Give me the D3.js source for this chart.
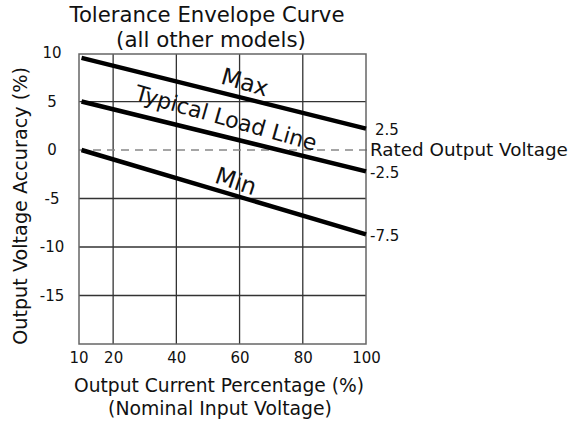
<!DOCTYPE html>
<html>
<head>
<meta charset="utf-8">
<script src="https://cdn.jsdelivr.net/npm/d3@7"></script>
<style>
  html, body { margin: 0; padding: 0; background: #fff; }
  svg { display: block; }
  text { font-family: "DejaVu Sans", Verdana, sans-serif; fill: #111; }
</style>
</head>
<body>
<svg id="chart" width="580" height="424"></svg>
<script>
// ---- data ----
const xTicks = [10, 20, 40, 60, 80, 100];
const yTicks = [10, 5, 0, -5, -10, -15];
const xGrid = [20, 40, 60, 80];
const yGrid = [5, -5, -10, -15];
const loadPct = [10, 100];
const maxLine = [9.5, 2.2];
const typicalLine = [5.0, -2.2];
const minLine = [0.0, -8.7];
const endLabels = ["2.5", "-2.5", "-7.5"];
const lineNames = ["Max", "Typical Load Line", "Min"];

const svg = d3.select("#chart");
const L = 79, R = 366, T = 54, B = 344;
const x = d3.scaleLinear().domain([9.2, 100]).range([L, R]);
const y = d3.scaleLinear().domain([-20, 9.9]).range([B, T]);

function fit(sel, w) {
  const n = sel.node();
  const len = n.getComputedTextLength();
  const fs = parseFloat(sel.attr("font-size"));
  sel.attr("font-size", (fs * w / len).toFixed(2));
  return sel;
}

// grid
svg.append("g").selectAll("line").data(xGrid).join("line")
  .attr("x1", d => x(d)).attr("x2", d => x(d)).attr("y1", T).attr("y2", B)
  .attr("stroke", "#333").attr("stroke-width", 1.3);
svg.append("g").selectAll("line").data(yGrid).join("line")
  .attr("x1", L).attr("x2", R).attr("y1", d => y(d)).attr("y2", d => y(d))
  .attr("stroke", "#333").attr("stroke-width", 1.3);
// zero dashed
svg.append("line").attr("x1", L).attr("x2", R + 4).attr("y1", y(0)).attr("y2", y(0))
  .attr("stroke", "#888").attr("stroke-width", 1.6).attr("stroke-dasharray", "8,6");
// frame
svg.append("rect").attr("x", L).attr("y", T).attr("width", R - L).attr("height", B - T)
  .attr("fill", "none").attr("stroke", "#666").attr("stroke-width", 1.5);

// axes ticks (text only)
const fmt = d => String(d);
const xAxis = d3.axisBottom(x).tickValues(xTicks).tickFormat(fmt).tickSize(0).tickPadding(0);
const gx = svg.append("g").attr("transform", `translate(0,${B})`).call(xAxis);
gx.select(".domain").remove();
gx.selectAll("text").attr("font-family", "DejaVu Sans").attr("font-size", 15)
  .attr("fill", "#111").attr("dy", null).attr("y", 19);
gx.selectAll(".tick").filter(d => d === 10).select("text").attr("dx", -3);

const yAxis = d3.axisLeft(y).tickValues(yTicks).tickFormat(fmt).tickSize(0).tickPadding(0);
const gy = svg.append("g").attr("transform", `translate(52,0)`).call(yAxis);
gy.select(".domain").remove();
gy.selectAll("text").attr("font-family", "DejaVu Sans").attr("font-size", 15)
  .attr("fill", "#111").attr("text-anchor", "middle").attr("x", 0).attr("dy", "0.3em");

// lines
const series = [maxLine, typicalLine, minLine];
const lineGen = d3.line().x((d, i) => x(loadPct[i])).y(d => y(d));
svg.append("g").selectAll("path").data(series).join("path")
  .attr("d", d => lineGen(d)).attr("fill", "none").attr("stroke", "#000")
  .attr("stroke-width", 4.5);

// line name labels, rotated along lines
const labelPos = [[245, 82, 48], [226, 118, 188], [236, 181, 42]];
series.forEach((s, i) => {
  const ang = Math.atan2(y(s[1]) - y(s[0]), x(loadPct[1]) - x(loadPct[0])) * 180 / Math.PI;
  const t = svg.append("text").text(lineNames[i])
    .attr("font-size", 19).attr("text-anchor", "middle").attr("dy", "0.35em")
    .attr("transform", `translate(${labelPos[i][0]},${labelPos[i][1]}) rotate(${ang + 2})`);
  fit(t, labelPos[i][2]);
});

// end labels
series.forEach((s, i) => {
  svg.append("text").text(endLabels[i])
    .attr("x", i === 0 ? 375 : 370).attr("y", y(s[1]) + 1)
    .attr("dy", "0.35em").attr("font-size", 15);
});
fit(svg.append("text").text("Rated Output Voltage")
  .attr("x", 370).attr("y", y(0)).attr("dy", "0.35em").attr("font-size", 16), 198);

// titles
fit(svg.append("text").text("Tolerance Envelope Curve").attr("x", 207).attr("y", 15)
  .attr("dy", "0.35em").attr("text-anchor", "middle").attr("font-size", 19), 275);
fit(svg.append("text").text("(all other models)").attr("x", 211).attr("y", 40)
  .attr("dy", "0.35em").attr("text-anchor", "middle").attr("font-size", 19), 190);
fit(svg.append("text").text("Output Current Percentage (%)").attr("x", 219).attr("y", 385)
  .attr("dy", "0.35em").attr("text-anchor", "middle").attr("font-size", 17), 290);
fit(svg.append("text").text("(Nominal Input Voltage)").attr("x", 220).attr("y", 408)
  .attr("dy", "0.35em").attr("text-anchor", "middle").attr("font-size", 17), 224);
fit(svg.append("text").text("Output Voltage Accuracy (%)")
  .attr("transform", "translate(20,206) rotate(-90)")
  .attr("dy", "0.35em").attr("text-anchor", "middle").attr("font-size", 17), 278);
</script>
</body>
</html>
